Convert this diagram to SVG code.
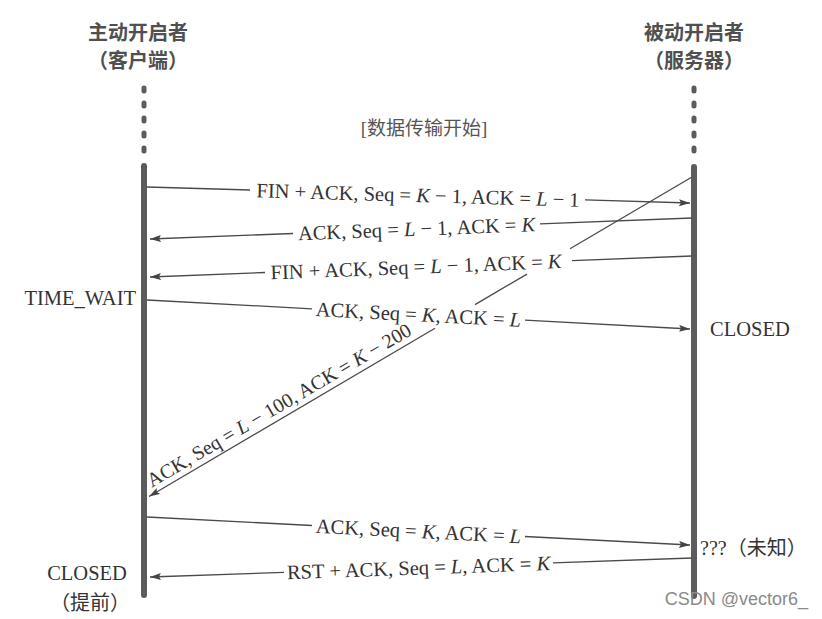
<svg xmlns="http://www.w3.org/2000/svg" width="822" height="619" viewBox="0 0 822 619">
<defs>
<marker id="ah" markerUnits="userSpaceOnUse" markerWidth="12" markerHeight="8" refX="11" refY="3.5" orient="auto">
<path d="M0,0 L11,3.5 L0,7 L2,3.5 z" fill="#444"/>
</marker>
<style>
.hdr{font-family:"Noto Sans CJK SC","Noto Sans",sans-serif;font-size:20px;font-weight:bold;fill:#505050;text-anchor:middle}
.lbl{font-family:"Liberation Serif","Noto Sans CJK SC",serif;font-size:20.5px;fill:#333}
.mid{text-anchor:middle}
.cjk{font-family:"Liberation Serif","Noto Sans CJK SC",serif;font-size:20px;fill:#333}
.msg{stroke:#4a4a4a;stroke-width:1.3;fill:none}
.tl{stroke:#5c5c5c;stroke-width:6;stroke-linecap:round;fill:none}
.dots{stroke:#5c5c5c;stroke-width:5;stroke-linecap:round;stroke-dasharray:3 12;fill:none}
</style>
</defs>
<rect width="822" height="619" fill="#fff"/>

<g id="client">
<text class="hdr" x="138" y="40">主动开启者</text>
<text class="hdr" x="138" y="68">（客户端）</text>
<line class="dots" x1="144" y1="88" x2="144" y2="158"/>
<line class="tl" x1="144" y1="166" x2="144" y2="595"/>
<text class="lbl" x="136" y="305" text-anchor="end">TIME_WAIT</text>
<text class="lbl" x="87" y="580" text-anchor="middle">CLOSED</text>
<text class="cjk" x="90" y="610" text-anchor="middle">（提前）</text>
</g>

<g id="server">
<text class="hdr" x="694" y="40">被动开启者</text>
<text class="hdr" x="694" y="68">（服务器）</text>
<line class="dots" x1="694" y1="88" x2="694" y2="158"/>
<line class="tl" x1="694" y1="167" x2="694" y2="596"/>
<text class="lbl" x="710" y="336">CLOSED</text>
<text class="cjk" x="700" y="555">???（未知）</text>
</g>

<g id="note">
<text x="424" y="135" text-anchor="middle" style="font-family:'Liberation Serif','Noto Sans CJK SC',serif;font-size:19px;fill:#555">[数据传输开始]</text>
</g>

<g id="connectors">
<line class="msg" x1="147" y1="187" x2="250" y2="190"/>
<line class="msg" x1="585" y1="199.9" x2="690" y2="203" marker-end="url(#ah)"/>
<line class="msg" x1="692" y1="218" x2="540" y2="223.9"/>
<line class="msg" x1="293" y1="233.5" x2="150" y2="239" marker-end="url(#ah)"/>
<line class="msg" x1="692" y1="256" x2="572" y2="260.6"/>
<line class="msg" x1="265" y1="272.5" x2="150" y2="277" marker-end="url(#ah)"/>
<line class="msg" x1="147" y1="300" x2="312" y2="308.8"/>
<line class="msg" x1="525" y1="320.1" x2="690" y2="329" marker-end="url(#ah)"/>
<line class="msg" x1="692" y1="177" x2="570" y2="248.8"/>
<line class="msg" x1="527" y1="274.1" x2="475" y2="304.6"/>
<line class="msg" x1="435" y1="328.2" x2="149" y2="496.5" marker-end="url(#ah)"/>
<line class="msg" x1="147" y1="517" x2="312" y2="525.5"/>
<line class="msg" x1="525" y1="536.5" x2="690" y2="545" marker-end="url(#ah)"/>
<line class="msg" x1="692" y1="558" x2="553" y2="562.9"/>
<line class="msg" x1="284" y1="572.3" x2="150" y2="577" marker-end="url(#ah)"/>
</g>

<g id="labels">
<text class="lbl mid" transform="translate(418,195) rotate(1.69)" y="7">FIN + ACK, Seq = <tspan font-style="italic">K</tspan> − 1, ACK = <tspan font-style="italic">L</tspan> − 1</text>
<text class="lbl mid" transform="translate(416.5,228.7) rotate(-2.22)" y="7">ACK, Seq = <tspan font-style="italic">L</tspan> − 1, ACK = <tspan font-style="italic">K</tspan></text>
<text class="lbl mid" transform="translate(416,266.7) rotate(-2.22)" y="7">FIN + ACK, Seq = <tspan font-style="italic">L</tspan> − 1, ACK = <tspan font-style="italic">K</tspan></text>
<text class="lbl mid" transform="translate(418.5,314.4) rotate(3.05)" y="7">ACK, Seq = <tspan font-style="italic">K</tspan>, ACK = <tspan font-style="italic">L</tspan></text>
<text class="lbl" style="font-size:20px" transform="translate(148,497) rotate(-30.47)" x="8" y="-6">ACK, Seq = <tspan font-style="italic">L</tspan> − 100, ACK = <tspan font-style="italic">K</tspan> − 200</text>
<text class="lbl mid" transform="translate(418.5,531) rotate(2.95)" y="7">ACK, Seq = <tspan font-style="italic">K</tspan>, ACK = <tspan font-style="italic">L</tspan></text>
<text class="lbl mid" transform="translate(418.5,567.6) rotate(-2.01)" y="7">RST + ACK, Seq = <tspan font-style="italic">L</tspan>, ACK = <tspan font-style="italic">K</tspan></text>
</g>

<text x="808" y="605" text-anchor="end" style="font-family:'Liberation Sans','Noto Sans',sans-serif;font-size:18px;fill:#8a8a8a">CSDN @vector6_</text>
</svg>
